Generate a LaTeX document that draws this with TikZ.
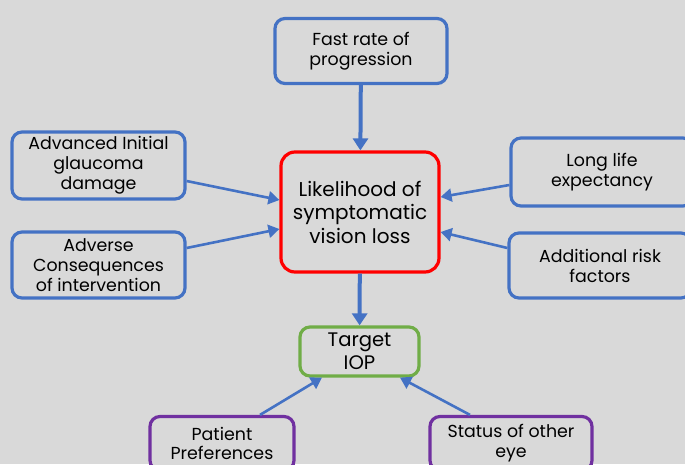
\documentclass[tikz,border=0pt]{standalone}
\usepackage{fontspec}
\setmainfont{Poppins}
\usetikzlibrary{arrows.meta}
\definecolor{bg}{HTML}{D9D9D9}
\definecolor{bblue}{HTML}{4472C4}
\definecolor{bred}{HTML}{FF0000}
\definecolor{bgreen}{HTML}{70AD47}
\definecolor{bpurple}{HTML}{7030A0}
\begin{document}
\begin{tikzpicture}[x=1pt,y=-1pt,
  box/.style={draw=bblue,line width=3.2pt,rounded corners=10pt,fill=bg,
    align=center,inner sep=0pt,text=black,font=\fontsize{17.4}{20}\selectfont},
  conn/.style={draw=bblue,line width=2.6pt,-{Triangle[length=11pt,width=13pt]}},
  thick conn/.style={draw=bblue,line width=4pt,-{Triangle[length=12pt,width=15pt]}}]
\clip (0,0) rectangle (685,464);
\fill[bg] (0,0) rectangle (685,464);
\node[box,minimum width=172pt,minimum height=65pt] (fast) at (361,51) {Fast rate of\\progression};
\node[box,draw=bred,minimum width=158pt,minimum height=120pt,rounded corners=14pt,
  font=\fontsize{20}{23.5}\selectfont] (lik) at (360,212) {Likelihood of\\symptomatic\\vision loss};
\node[box,minimum width=173pt,minimum height=67pt] (adv) at (98.5,165.5) {Advanced Initial\\glaucoma\\damage};
\node[box,minimum width=173pt,minimum height=66pt] (adverse) at (98.5,265) {Adverse\\Consequences\\of intervention};
\node[box,minimum width=182pt,minimum height=68pt] (long) at (602,172) {Long life\\expectancy};
\node[box,minimum width=182pt,minimum height=65pt] (addl) at (600,265.5) {Additional risk\\factors};
\node[box,draw=bgreen,minimum width=119pt,minimum height=49pt,
  font=\fontsize{19.6}{23}\selectfont] (iop) at (359.5,351.5) {Target\\IOP};
\node[box,draw=bpurple,minimum width=144pt,minimum height=54pt,text depth=0pt] (pat) at (222,443.5) {Patient\\[-1pt]Preferences};
\node[box,draw=bpurple,minimum width=162pt,minimum height=54pt] (stat) at (511,443.5) {Status of other\\eye};
\draw[thick conn] (fast) -- (lik);
\draw[thick conn] (lik) -- (iop);
\draw[conn] (adv.east |- 0,181) -- (lik.west |- 0,200);
\draw[conn] (adverse.east |- 0,248) -- (lik.west |- 0,229);
\draw[conn] (long.west |- 0,185) -- (lik.east |- 0,197);
\draw[conn] (addl.west |- 0,248) -- (lik.east |- 0,232);
\draw[conn] (pat.north -| 260,0) -- (iop.south -| 322,0);
\draw[conn] (stat.north -| 470,0) -- (iop.south -| 400,0);
\end{tikzpicture}
\end{document}
